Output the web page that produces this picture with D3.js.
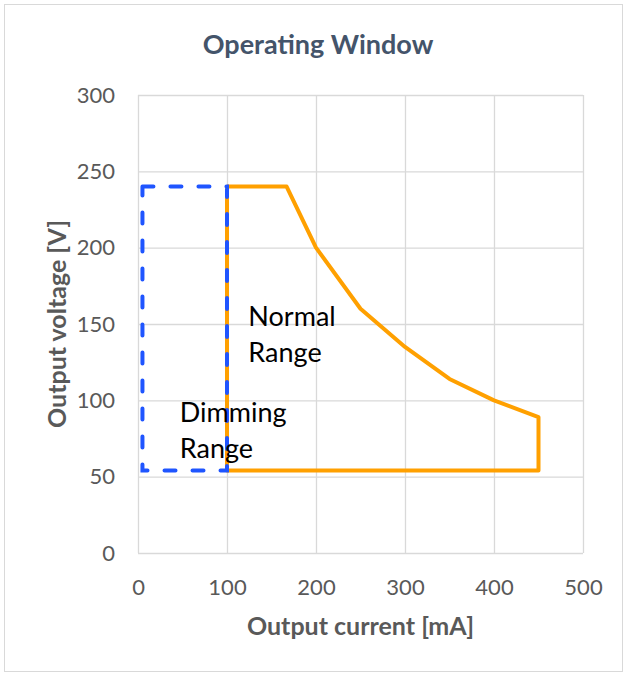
<!DOCTYPE html>
<html lang="en">
<head>
<meta charset="UTF-8">
<title>Operating Window</title>
<script src="https://d3js.org/d3.v7.min.js"></script>
<style>
  body { margin: 0; background: #fff; }
  svg text { font-family: Lato, "Open Sans", sans-serif; }
</style>
</head>
<body>
<svg id="chart" width="627" height="673"></svg>
<script>
// data
var normalCurrent = [100, 167, 200, 250, 300, 350, 400, 450, 450, 100, 100];
var normalVoltage = [240, 240, 200, 160, 135, 114, 100, 89, 54, 54, 240];
var dimmingCurrent = [5, 100, 100, 5, 5];
var dimmingVoltage = [240, 240, 54, 54, 240];
var xTicks = [0, 100, 200, 300, 400, 500];
var yTicks = [0, 50, 100, 150, 200, 250, 300];

var margin = { left: 138, right: 44, top: 95, bottom: 120 };
var svg = d3.select('#chart');
var width = +svg.attr('width');
var height = +svg.attr('height');
var innerWidth = width - margin.left - margin.right;
var innerHeight = height - margin.top - margin.bottom;

// chart frame
svg.append('rect')
    .attr('x', 4.5).attr('y', 4.5)
    .attr('width', 618).attr('height', 667)
    .attr('fill', '#fff')
    .attr('stroke', '#d9d9d9');

svg.append('text')
    .attr('x', 318).attr('y', 54)
    .attr('text-anchor', 'middle')
    .style('font-size', '27px')
    .style('font-weight', 'bold')
    .style('fill', '#44546a')
    .text('Operating Window');

var g = svg.append('g')
    .attr('transform', `translate(${margin.left},${margin.top})`);

var xScale = d3.scaleLinear().domain([0, 500]).range([0, innerWidth]);
var yScale = d3.scaleLinear().domain([0, 300]).range([innerHeight, 0]);

var xAxis = d3.axisBottom(xScale)
    .tickValues(xTicks)
    .tickSize(-innerHeight)
    .tickPadding(26);
var yAxis = d3.axisLeft(yScale)
    .tickValues(yTicks)
    .tickSize(-innerWidth)
    .tickPadding(23);

var xAxisG = g.append('g')
    .attr('transform', `translate(0,${innerHeight})`)
    .call(xAxis);
var yAxisG = g.append('g').call(yAxis);

[xAxisG, yAxisG].forEach(a => {
    a.select('.domain').remove();
    a.selectAll('line').attr('stroke', '#d9d9d9').attr('stroke-width', 1.3);
    a.selectAll('text')
        .style('font-size', '22px')
        .style('fill', '#595959');
});

g.append('text')
    .attr('x', innerWidth / 2)
    .attr('y', innerHeight + 82)
    .attr('text-anchor', 'middle')
    .style('font-size', '25px')
    .style('font-weight', 'bold')
    .style('fill', '#595959')
    .text('Output current [mA]');

g.append('text')
    .attr('transform', 'rotate(-90)')
    .attr('x', -innerHeight / 2)
    .attr('y', -72)
    .attr('text-anchor', 'middle')
    .style('font-size', '25px')
    .style('font-weight', 'bold')
    .style('fill', '#595959')
    .text('Output voltage [V]');

var line = d3.line()
    .x(d => xScale(d[0]))
    .y(d => yScale(d[1]));

g.append('path')
    .datum(d3.zip(normalCurrent, normalVoltage))
    .attr('d', line)
    .attr('fill', 'none')
    .attr('stroke', '#ffa000')
    .attr('stroke-width', 4)
    .attr('stroke-linejoin', 'round');

g.append('path')
    .datum(d3.zip(dimmingCurrent, dimmingVoltage))
    .attr('d', line)
    .attr('fill', 'none')
    .attr('stroke', '#1f55ff')
    .attr('stroke-width', 4)
    .attr('stroke-dasharray', '11,17')
    .attr('stroke-linecap', 'round');

// annotations
var labels = [
    { text: ['Normal', 'Range'], x: 124, y: 149 },
    { text: ['Dimming', 'Range'], x: 47, y: 86 }
];
labels.forEach(l => {
    var t = g.append('text')
        .attr('x', xScale(l.x))
        .attr('y', yScale(l.y))
        .style('font-size', '27px')
        .style('fill', '#000');
    l.text.forEach((s, i) => {
        t.append('tspan')
            .attr('x', xScale(l.x))
            .attr('dy', i === 0 ? 0 : 36)
            .text(s);
    });
});
</script>
</body>
</html>
